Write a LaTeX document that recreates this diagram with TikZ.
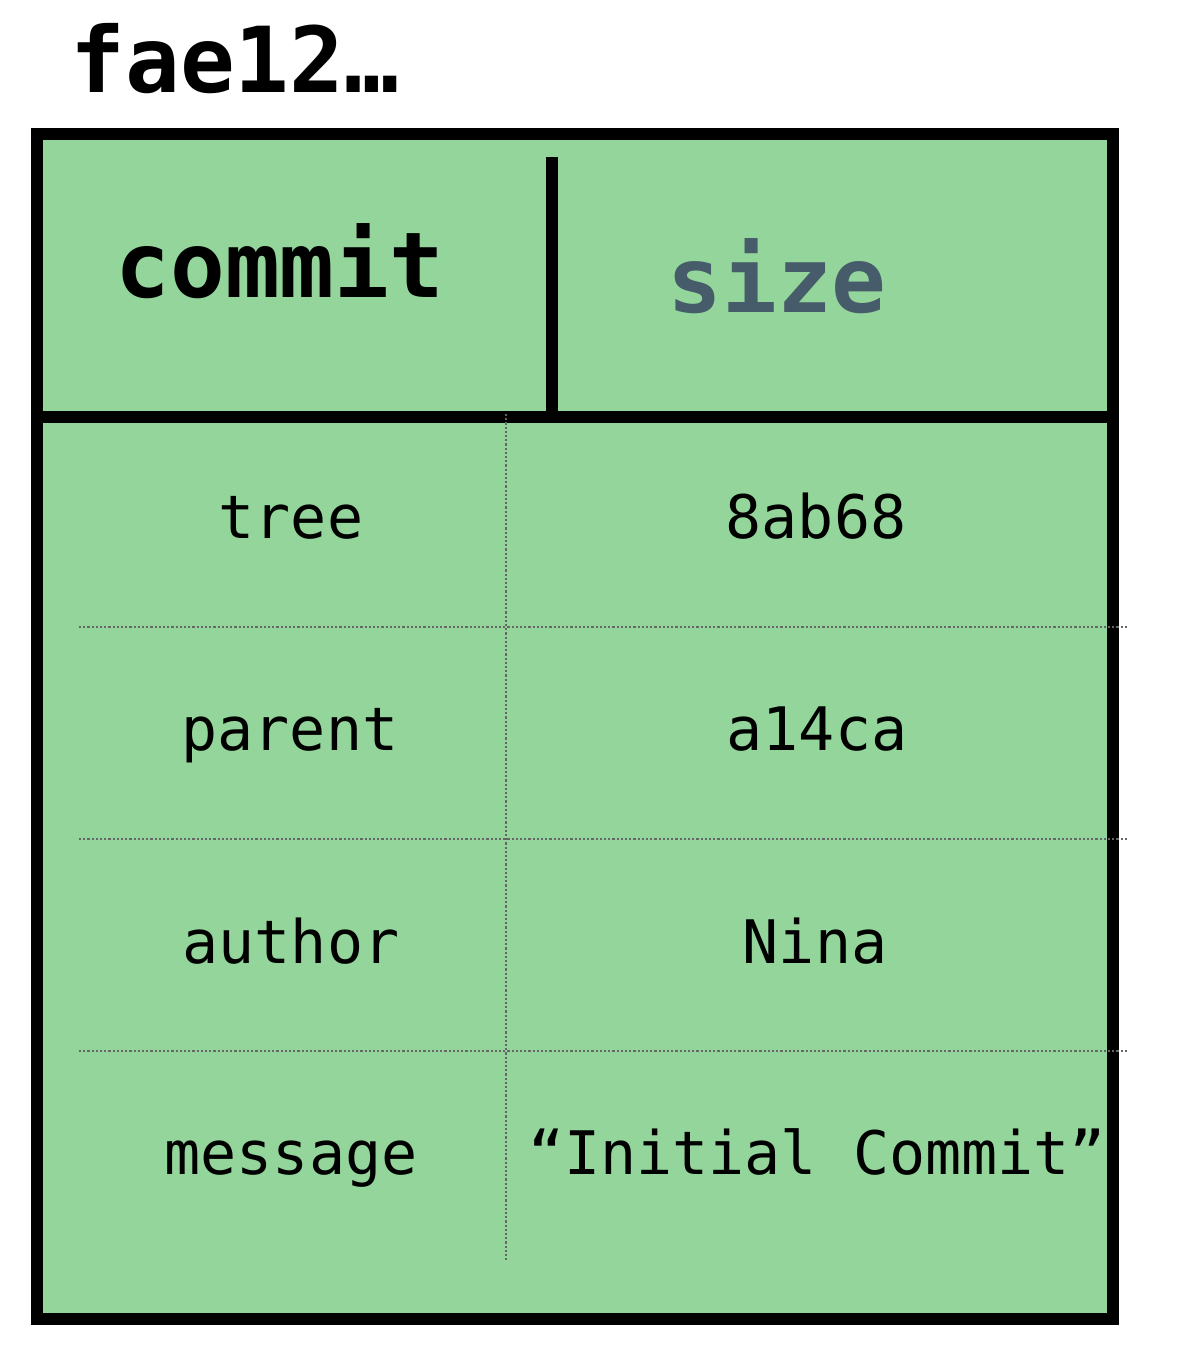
\documentclass[tikz,border=0pt]{standalone}
\usepackage{fontspec}
\setmonofont{DejaVu Sans Mono}
\definecolor{cellgreen}{HTML}{93D59A}
\definecolor{slate}{HTML}{465C6A}
\definecolor{dotgray}{HTML}{666666}
\begin{document}
\begin{tikzpicture}[x=1pt,y=-1pt,
  bigtext/.style={anchor=base,inner sep=0pt,font=\ttfamily\bfseries\fontsize{91}{91}\selectfont},
  celltext/.style={anchor=base,inner sep=0pt,font=\ttfamily\fontsize{60}{60}\selectfont},
  thickline/.style={line width=12pt,draw=black},
  dotline/.style={draw=dotgray,line width=1.7pt,dash pattern=on 2.2pt off 2pt}]
\useasboundingbox (0,0) rectangle (1192,1364);
% outer box
\node[thickline,fill=cellgreen,minimum width=1076pt,minimum height=1185pt,inner sep=0pt,outer sep=0pt] (box) at (574.7,726.2) {};
% header dividers
\draw[thickline] (box.west |- 0,416.7) coordinate (hl) -- (box.east |- 0,416.7) coordinate (hr);
\coordinate (vtop) at (552,156.7);
\draw[thickline,line cap=butt] (vtop) -- (vtop |- hl);
% dotted grid
\coordinate (dvt) at (506.3,414);
\coordinate (dvb) at (506.3,1262);
\draw[dotline] (dvt) -- (dvb);
\foreach \yy/\nm in {627/a,839/b,1051/c}{
  \coordinate (dl\nm) at (79,\yy);
  \coordinate (dr\nm) at (1128,\yy);
  \draw[dotline] (dl\nm) -- (dr\nm);
}
% texts
\node[bigtext] (title) at (235,93) {fae12…};
\node[bigtext] (commit) at (280,297) {commit};
\node[bigtext,text=slate] (size) at (777,312) {size};
\node[celltext] (k1) at (291,538) {tree};
\node[celltext] (v1) at (816,538) {8ab68};
\node[celltext] (k2) at (290,750) {parent};
\node[celltext] (v2) at (817,750) {a14ca};
\node[celltext] (k3) at (291,963) {author};
\node[celltext] (v3) at (815,963) {Nina};
\node[celltext] (k4) at (291,1174) {message};
\node[celltext] (v4) at (817,1174) {“Initial Commit”};
\end{tikzpicture}
\end{document}
